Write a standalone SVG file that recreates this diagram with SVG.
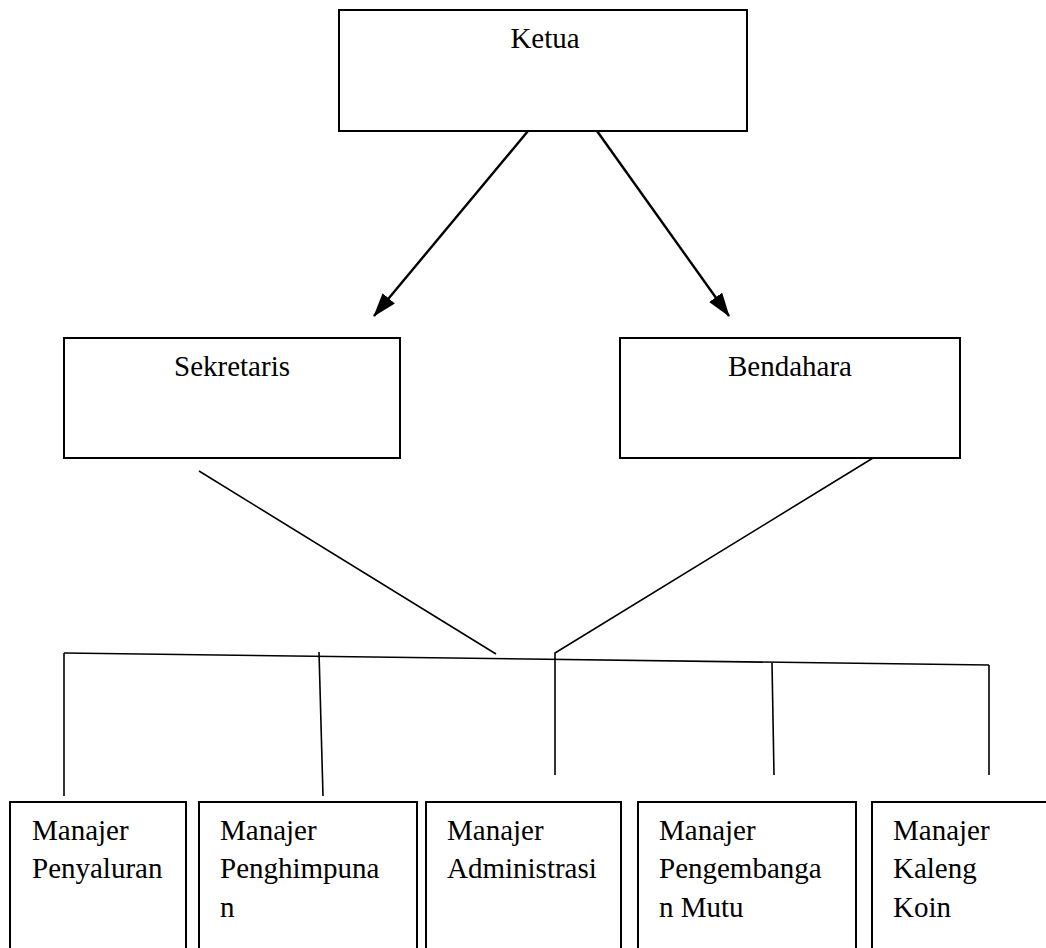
<svg xmlns="http://www.w3.org/2000/svg" width="1046" height="948" viewBox="0 0 1046 948">
<style>
.box{fill:#fff;stroke:#000;stroke-width:2}
text{font-family:'Liberation Serif','Times New Roman',Times,serif;font-size:29px;fill:#000}
.c{text-anchor:middle}
.ln{stroke:#000;stroke-width:1.6;fill:none}
.ar{stroke:#000;stroke-width:2.4;fill:none}
</style>
<defs>
<marker id="ah" markerUnits="userSpaceOnUse" markerWidth="26" markerHeight="18" refX="23" refY="8" orient="auto">
<path d="M0,0 L24,8 L0,16 z" fill="#000"/>
</marker>
</defs>
<rect width="1046" height="948" fill="#fff"/>
<g id="connectors">
<line class="ar" x1="528" y1="131" x2="374" y2="316" marker-end="url(#ah)"/>
<line class="ar" x1="597" y1="131" x2="729" y2="316" marker-end="url(#ah)"/>
<line class="ln" x1="199" y1="471" x2="496" y2="654"/>
<polyline class="ln" points="873,458 555,653 555,775"/>
<line class="ln" x1="64" y1="653" x2="989" y2="665"/>
<line class="ln" x1="64" y1="653" x2="64" y2="796"/>
<line class="ln" x1="319" y1="652" x2="323" y2="796"/>
<line class="ln" x1="772" y1="663" x2="774" y2="775"/>
<line class="ln" x1="989" y1="665" x2="989" y2="775"/>
</g>
<g id="ketua">
<rect class="box" x="339" y="10" width="408" height="121"/>
<text class="c" x="545" y="48" font-family="Liberation Serif, serif">Ketua</text>
</g>
<g id="sekretaris">
<rect class="box" x="64" y="338" width="336" height="120"/>
<text class="c" x="232" y="376" font-family="Liberation Serif, serif">Sekretaris</text>
</g>
<g id="bendahara">
<rect class="box" x="620" y="338" width="340" height="120"/>
<text class="c" x="790" y="376" font-family="Liberation Serif, serif">Bendahara</text>
</g>
<g id="penyaluran" font-family="Liberation Serif, serif">
<rect class="box" x="10" y="802" width="176" height="160"/>
<text x="32" y="840">Manajer</text>
<text x="32" y="878">Penyaluran</text>
</g>
<g id="penghimpunan">
<rect class="box" x="199" y="802" width="218" height="160"/>
<text x="220" y="840">Manajer</text>
<text x="220" y="878">Penghimpuna</text>
<text x="220" y="917">n</text>
</g>
<g id="administrasi">
<rect class="box" x="426" y="802" width="195" height="160"/>
<text x="447" y="840">Manajer</text>
<text x="447" y="878">Administrasi</text>
</g>
<g id="pengembangan">
<rect class="box" x="638" y="802" width="218" height="160"/>
<text x="659" y="840">Manajer</text>
<text x="659" y="878">Pengembanga</text>
<text x="659" y="917">n Mutu</text>
</g>
<g id="kaleng">
<rect class="box" x="872" y="802" width="180" height="160"/>
<text x="893" y="840">Manajer</text>
<text x="893" y="878">Kaleng</text>
<text x="893" y="917">Koin</text>
</g>
</svg>
